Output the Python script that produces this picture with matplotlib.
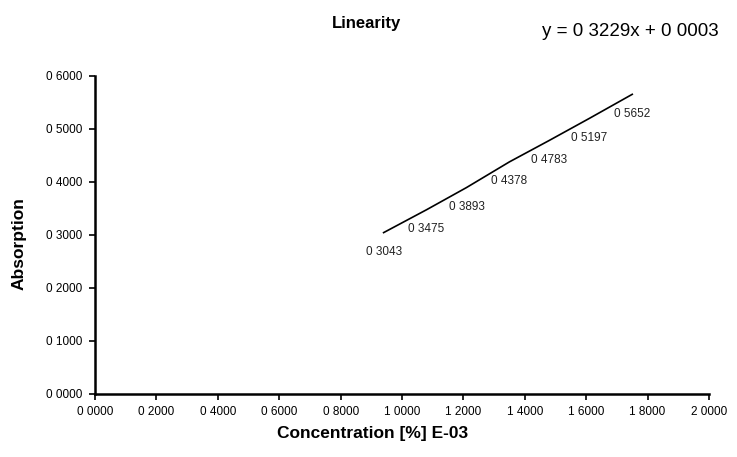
import numpy as np
import matplotlib
matplotlib.use("Agg")
from matplotlib import pyplot as plt
from matplotlib.ticker import FuncFormatter

# concentration [%] E-03 and measured absorption
conc = [0.94, 1.08, 1.21, 1.35, 1.48, 1.61, 1.75]
absorption = [0.3043, 0.3475, 0.3893, 0.4378, 0.4783, 0.5197, 0.5652]
x_ticks = [0.0, 0.2, 0.4, 0.6, 0.8, 1.0, 1.2, 1.4, 1.6, 1.8, 2.0]
y_ticks = [0.0, 0.1, 0.2, 0.3, 0.4, 0.5, 0.6]
equation = "y = 0 3229x + 0 0003"


def scan_fmt(v, pos=None):
    # the scanned original lost its decimal points
    return ("%.4f" % v).replace(".", " ")


plt.rcParams['font.family'] = ['Liberation Sans', 'DejaVu Sans']

fig = plt.figure(figsize=(7.37, 4.57), dpi=100)
ax = fig.add_axes([0.129, 0.138, 0.833, 0.696])

ax.plot(conc, absorption, color='black', lw=1.2)
for xv, yv in zip(conc, absorption):
    ax.annotate(scan_fmt(yv), (xv, yv), xytext=(0, -14), textcoords='offset points',
                ha='center', va='center', fontsize=8.5, color='#222222')

ax.set_xlim(0, 2.0)
ax.set_ylim(0, 0.6)
ax.set_xticks(x_ticks)
ax.set_yticks(y_ticks)
ax.xaxis.set_major_formatter(FuncFormatter(scan_fmt))
ax.yaxis.set_major_formatter(FuncFormatter(scan_fmt))
ax.tick_params(labelsize=8.5, length=4, width=1.2, colors='black', pad=5)
for s in ['top', 'right']:
    ax.spines[s].set_visible(False)
for s in ['left', 'bottom']:
    ax.spines[s].set_linewidth(1.8)

fig.text(0.506, 0.052, "Concentration [%] E-03", ha='center', va='center',
         fontsize=12.5, fontweight='bold')
fig.text(0.026, 0.468, "Absorption", ha='center', va='center', rotation=90,
         fontsize=12.5, fontweight='bold')

fig.text(0.497, 0.949, "Linearity", ha='center', va='center', fontsize=12, fontweight='bold')
fig.text(0.735, 0.932, equation, ha='left', va='center', fontsize=13.5)

fig.savefig("out.png", dpi=100, facecolor='white')
